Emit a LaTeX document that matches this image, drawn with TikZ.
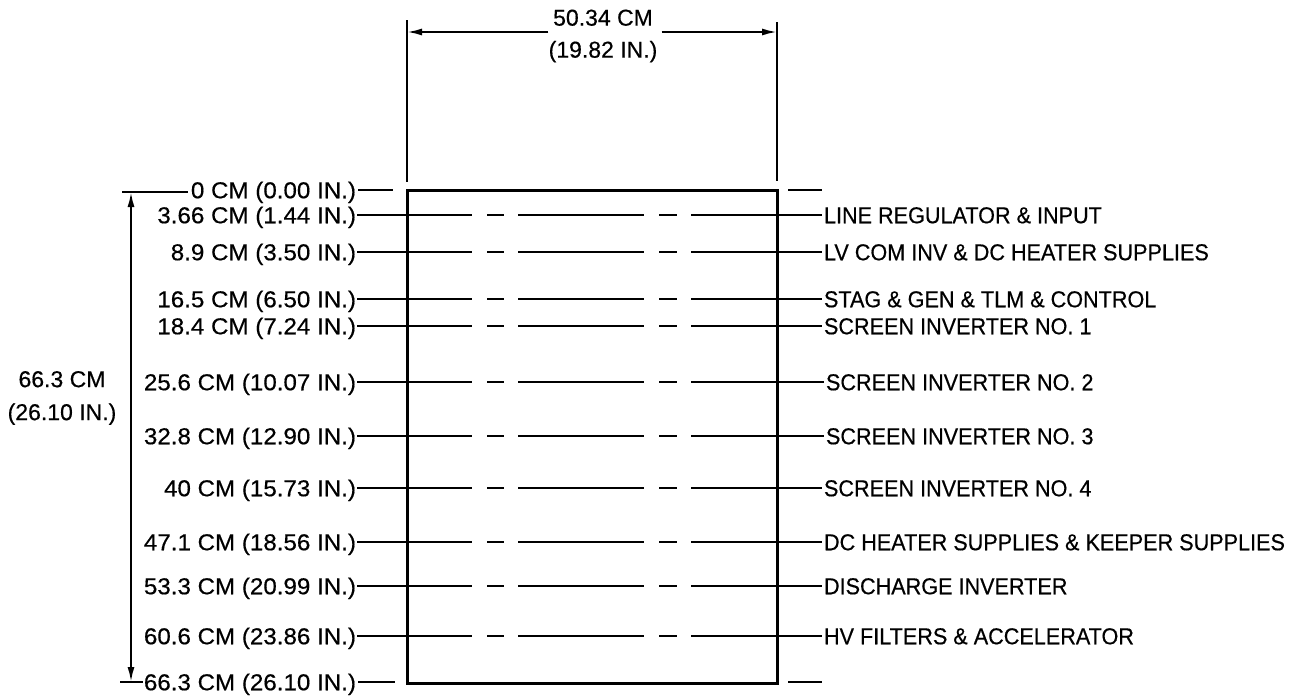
\documentclass[tikz,border=0pt]{standalone}
\usepackage{fontspec}
\setmainfont[FakeBold=0.5]{Liberation Sans}
\newfontfamily\narrowf[FakeStretch=0.94,FakeBold=0.5]{Liberation Sans}
\newfontfamily\widef[FakeStretch=1.05,FakeBold=0.5]{Liberation Sans}
\usetikzlibrary{arrows.meta}
\begin{document}
\begin{tikzpicture}[x=1pt,y=-1pt,
  lab/.style={inner sep=0pt,outer sep=0pt,text height=16.5pt,text depth=0pt},
  llab/.style={lab,anchor=east,font=\fontsize{23}{30}\selectfont\widef},
  rlab/.style={lab,anchor=west,font=\fontsize{23}{30}\selectfont\narrowf},
  thin/.style={line width=2pt},
  rowline/.style={thin,dash pattern=on 115pt off 15pt on 17pt off 14pt on 126pt off 15pt on 18pt off 14pt on 400pt},
  boxline/.style={line width=3pt},
  arr/.style={thin,-{Latex[length=15pt,width=7pt]}},
  dblarr/.style={thin,{Latex[length=15pt,width=7pt]}-{Latex[length=15pt,width=7pt]}}
]
\useasboundingbox (0,0) rectangle (1308,696);
% box
\node[draw,boxline,minimum width=370pt,minimum height=493pt,inner sep=0pt] (box) at (592,436.5) {};
% top dimension
\coordinate (eLt) at (407,20); \coordinate (eLb) at (407,182);
\coordinate (eRt) at (777,22); \coordinate (eRb) at (777,181);
\draw[thin] (eLt) -- (eLb);
\draw[thin] (eRt) -- (eRb);
\node[inner sep=0pt,align=center,font=\fontsize{23}{32}\selectfont] (dimtxt) at (603,36) {50.34 CM\\(19.82 IN.)};
\coordinate (aL) at (407,32); \coordinate (aR) at (777,32);
\draw[arr] (dimtxt.west |- aL) -- (aL);
\draw[arr] ([xshift=4pt]dimtxt.east |- aR) -- (aR);
% left labels
\node[llab] (L0) at (356,190) {0 CM (0.00 IN.)};
\node[llab] (L1) at (356,215) {3.66 CM (1.44 IN.)};
\node[llab] (L2) at (356,252) {8.9 CM (3.50 IN.)};
\node[llab] (L3) at (356,299) {16.5 CM (6.50 IN.)};
\node[llab] (L4) at (356,326) {18.4 CM (7.24 IN.)};
\node[llab] (L5) at (356,382) {25.6 CM (10.07 IN.)};
\node[llab] (L6) at (356,436) {32.8 CM (12.90 IN.)};
\node[llab] (L7) at (356,488) {40 CM (15.73 IN.)};
\node[llab] (L8) at (356,542) {47.1 CM (18.56 IN.)};
\node[llab] (L9) at (356,586) {53.3 CM (20.99 IN.)};
\node[llab] (L10) at (356,636) {60.6 CM (23.86 IN.)};
\node[llab] (L11) at (356,682) {66.3 CM (26.10 IN.)};
% right labels
\node[rlab] (R1) at (824,215) {LINE REGULATOR \& INPUT};
\node[rlab] (R2) at (824,252) {LV COM INV \& DC HEATER SUPPLIES};
\node[rlab] (R3) at (824,299) {STAG \& GEN \& TLM \& CONTROL};
\node[rlab] (R4) at (824,326) {SCREEN INVERTER NO. 1};
\node[rlab] (R5) at (826,382) {SCREEN INVERTER NO. 2};
\node[rlab] (R6) at (826,436) {SCREEN INVERTER NO. 3};
\node[rlab] (R7) at (824,488) {SCREEN INVERTER NO. 4};
\node[rlab] (R8) at (824,542) {DC HEATER SUPPLIES \& KEEPER SUPPLIES};
\node[rlab] (R9) at (824,586) {DISCHARGE INVERTER};
\node[rlab] (R10) at (824,636) {HV FILTERS \& ACCELERATOR};
% row lines
\foreach \i in {1,...,10}{\draw[rowline] ([xshift=1pt]L\i.east) -- ([xshift=-2pt]R\i.west);}
% top and bottom short ticks
\coordinate (t0l) at (393,190); \coordinate (t0a) at (788,190); \coordinate (t0b) at (822,190);
\coordinate (t11l) at (395,682); \coordinate (t11a) at (788,682); \coordinate (t11b) at (822,682);
\draw[thin] ([xshift=2pt]L0.east) -- (t0l);
\draw[thin] (t0a) -- (t0b);
\draw[thin] ([xshift=2pt]L11.east) -- (t11l);
\draw[thin] (t11a) -- (t11b);
% overall height dimension
\coordinate (hT) at (131,192); \coordinate (hB) at (131,682);
\coordinate (hTe) at (122,192); \coordinate (hBe) at (120,682);
\draw[thin] (hTe) -- ([xshift=-3pt]L0.west |- hTe);
\draw[thin] (hBe) -- ([xshift=-1pt]L11.west);
\draw[dblarr] (hT) -- (hB);
\node[inner sep=0pt,align=center,font=\fontsize{23}{33}\selectfont] (htxt) at (62,398) {66.3 CM\\(26.10 IN.)};
\end{tikzpicture}
\end{document}
